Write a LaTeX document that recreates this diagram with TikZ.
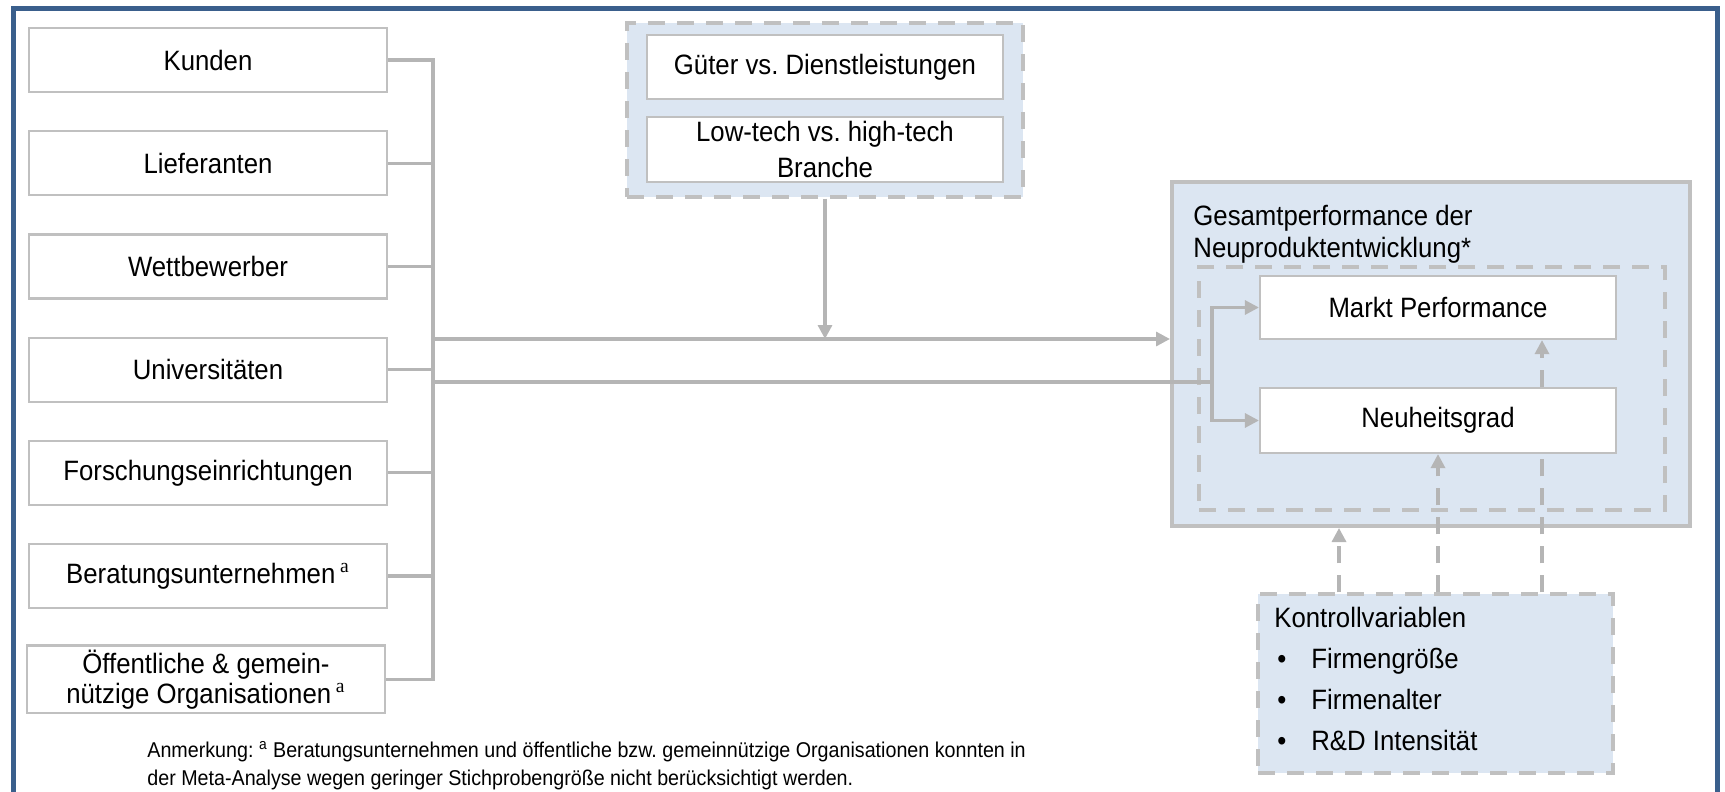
\documentclass[tikz,border=0pt]{standalone}
\usepackage{fontspec}
\setmainfont{Liberation Sans}[FakeStretch=0.92]
\newfontfamily\supserif{Liberation Serif}
\frenchspacing
\usetikzlibrary{arrows.meta,positioning}
\definecolor{linegray}{RGB}{181,181,181}
\definecolor{boxgray}{RGB}{192,192,192}
\definecolor{paleblue}{RGB}{220,230,242}
\definecolor{frameblue}{RGB}{58,95,140}
\newcommand\supa{\textsuperscript{\supserif a}}
\newcommand\bul{\makebox[18.5pt][l]{\hspace{1.5pt}\textbullet}}
\tikzset{>={Triangle[length=7pt,width=7pt]}}
\tikzset{
	srcbox/.style={draw=boxgray, line width=1.1pt, fill=white, minimum width=179pt, minimum height=32pt, inner sep=2pt, align=center, font=\fontsize{14}{15}\selectfont},
	dashbox/.style={draw=boxgray, line width=1.6pt, dash pattern=on 8.5pt off 6pt},
	link/.style={draw=linegray, line width=1.6pt},
	ctrl/.style={link, dash pattern=on 8.5pt off 6pt},
	txt/.style={inner sep=0pt, align=left, font=\fontsize{14}{16}\selectfont}
}

\begin{document}
\begin{tikzpicture}[x=0.5pt,y=-0.5pt]
		\useasboundingbox (0,0) rectangle (1725,792);
		\draw[frameblue, line width=2.5pt] (13,800) -- (13,9) -- (1717,9) -- (1717,800);
		% sources
		\node[srcbox] (kunden) at (208,60) {Kunden};
		\node[srcbox] (liefer) at (208,163.2) {Lieferanten};
		\node[srcbox] (wettb) at (208,266.4) {Wettbewerber};
		\node[srcbox] (unis) at (208,369.6) {Universitäten};
		\node[srcbox] (forsch) at (208,472.8) {Forschungseinrichtungen};
		\node[srcbox] (berat) at (208,576) {Beratungsunternehmen\,\supa};
		\node[srcbox] (oeff) at (206,679.2) {Öffentliche \& gemein-\\nützige Organisationen\,\supa};
		% moderators
		\node[dashbox, fill=paleblue, minimum width=198pt, minimum height=87pt] (moder) at (825,110) {};
		\node[srcbox, minimum width=178pt] (gueter) at (825,67) {Güter vs. Dienstleistungen};
		\node[srcbox, minimum width=178pt, minimum height=32.5pt, font=\fontsize{14}{18}\selectfont] (branche) at (825,149.5) {Low-tech vs. high-tech\\Branche};
		% outcome
		\node[draw=boxgray, line width=2pt, fill=paleblue, minimum width=259pt, minimum height=172pt] (gesamt) at (1431,354) {};
		\node[txt, anchor=north west] (gtitle) at (1193,205) {Gesamtperformance der\\Neuproduktentwicklung*};
		\node[dashbox, minimum width=233pt, minimum height=121.5pt] (inner) at (1432,388.5) {};
		\node[srcbox, minimum width=178pt, minimum height=31.5pt] (markt) at (1438,307.5) {Markt Performance};
		\node[srcbox, minimum width=178pt, minimum height=32.5pt] (neu) at (1438,420.5) {Neuheitsgrad};
		% controls
		\node[dashbox, fill=paleblue, minimum width=177.5pt, minimum height=89.5pt] (kontroll) at (1435.5,683.5) {};
		\node[txt, anchor=north west, font=\fontsize{14}{20.5}\selectfont] (klist) at (1274,607) {Kontrollvariablen\\\bul Firmengröße\\\bul Firmenalter\\\bul R\&D Intensität};
		% connectors
		\coordinate (bus) at (433,0);
		\coordinate (upper) at (433,339);
		\coordinate (lower) at (433,382);
		\coordinate (split) at (1212,382);
		\draw[link] (kunden.east) -- (bus |- kunden.east) -- (bus |- oeff.east) -- (oeff.east);
		\foreach \n in {liefer,wettb,unis,forsch,berat}
			\draw[link] (\n.east) -- (bus |- \n.east);
		\draw[link,->] (upper) -- (upper -| gesamt.west);
		\draw[link,->] (moder.south) -- (moder.south |- upper);
		\draw[link] (lower) -- (split);
		\draw[link,->] (split) |- (markt.west);
		\draw[link,->] (split) |- (neu.west);
		\coordinate (kleft) at ([xshift=-49.5pt]neu.south);
		\coordinate (kright) at ([xshift=52pt]neu.south);
		\draw[ctrl,->] (kleft |- kontroll.north) -- (kleft |- gesamt.south);
		\draw[ctrl,->] (neu.south |- kontroll.north) -- (neu.south);
		\draw[ctrl] (kright |- kontroll.north) -- (kright);
		\draw[ctrl,->] (kright |- neu.north) -- (kright |- markt.south);
		% note
		\node[anchor=base west, inner sep=0pt, font=\fontsize{10.7}{14}\selectfont] (note1) at (147,757) {Anmerkung: \textsuperscript{a} Beratungsunternehmen und öffentliche bzw. gemeinnützige Organisationen konnten in};
		\node[anchor=base west, inner sep=0pt, font=\fontsize{10.7}{14}\selectfont] (note2) at (147,785) {der Meta-Analyse wegen geringer Stichprobengröße nicht berücksichtigt werden.};
	\end{tikzpicture}
\end{document}
